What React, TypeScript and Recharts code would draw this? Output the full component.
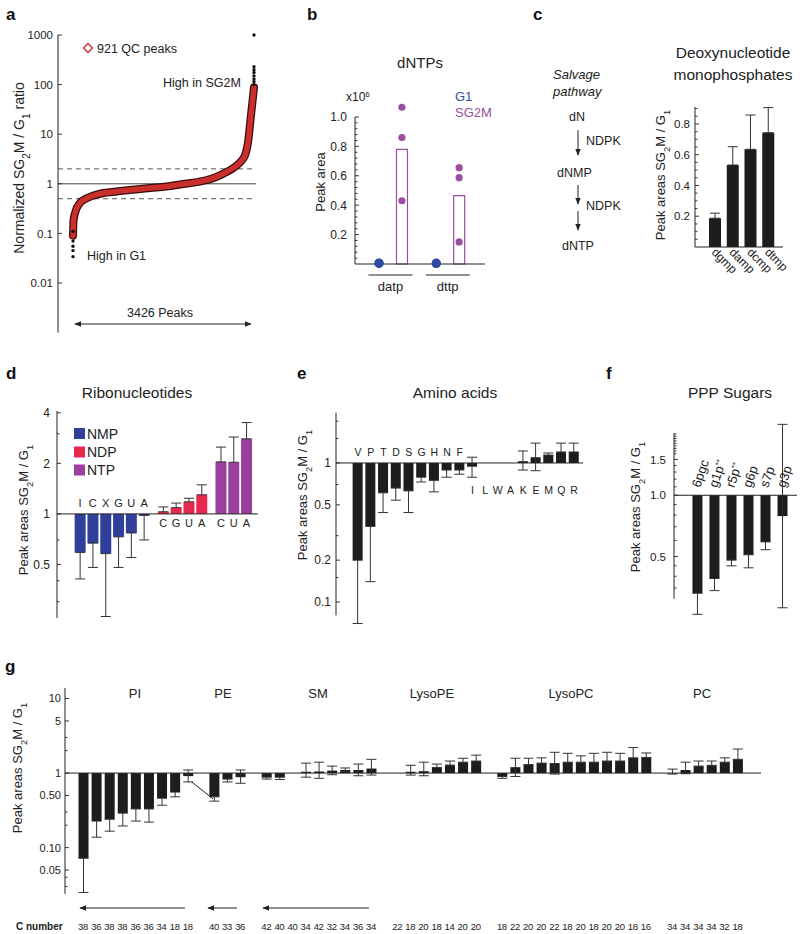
import {
  Bar,
  Cell,
  ComposedChart,
  ErrorBar,
  Line,
  ReferenceDot,
  ReferenceLine,
  Scatter,
  XAxis,
  YAxis,
} from 'recharts'

const FONT = '"Liberation Sans", Arial, Helvetica, sans-serif'
const INK = '#222'
const BAR = '#1d1d1d'
const NMP_BLUE = '#2f3f9a'
const NDP_RED = '#e6284f'
const NTP_PURPLE = '#9b3e9d'
const G1_BLUE = '#3049a2'
const SG2M_PURPLE = '#9a4fa0'
const QC_RED = '#c9302c'

// a: ranked SG2M/G1 ratios of all peaks
const curveRank = [0, 10, 40, 130, 260, 510, 830, 1140, 1460, 1770, 2080, 2400, 2650, 2840, 3030, 3160, 3260, 3320, 3360, 3395, 3426]
const curveRatio = [0.09, 0.18, 0.26, 0.41, 0.51, 0.63, 0.7, 0.76, 0.82, 0.88, 0.99, 1.11, 1.3, 1.59, 2.07, 2.69, 3.85, 7.7, 19.5, 43, 88]
const tailRank = [0, 0, 0, 0, 0, 3426, 3426, 3426, 3426, 3426, 3426, 3426, 3426]
const tailRatio = [0.11, 0.07, 0.055, 0.045, 0.034, 100, 115, 130, 150, 175, 200, 230, 1000]
const ratioTicks = [0.01, 0.1, 1, 10, 100, 1000]

// b: dNTP peak areas (x10^6)
const dntpNames = ['datp', 'dttp']
const dntpMean = [0.78, 0.465]
const dntpSg2m = [[1.066, 0.86, 0.43], [0.655, 0.587, 0.15]]
const dntpG1 = [[0.007, 0.004, 0.005], [0.006, 0.003, 0.005]]

// c: deoxynucleotide monophosphates
const dnmpNames = ['dgmp', 'damp', 'dcmp', 'dtmp']
const dnmpRatio = [0.187, 0.533, 0.635, 0.743]
const dnmpErrTop = [0.22, 0.652, 0.858, 0.906]

// d: ribonucleotides
const nmpNames = ['I', 'C', 'X', 'G', 'U', 'A']
const nmpRatio = [0.59, 0.67, 0.58, 0.73, 0.77, 0.98]
const nmpErrLow = [0.41, 0.48, 0.245, 0.48, 0.55, 0.7]
const ndpNames = ['C', 'G', 'U', 'A']
const ndpRatio = [1.03, 1.09, 1.18, 1.3]
const ndpErrTop = [1.1, 1.16, 1.24, 1.49]
const ntpNames = ['C', 'U', 'A']
const ntpRatio = [2.04, 2.03, 2.8]
const ntpErrTop = [2.5, 2.87, 3.5]

// e: amino acids
const aminoNames = ['V', 'P', 'T', 'D', 'S', 'G', 'H', 'N', 'F', 'I', 'L', 'W', 'A', 'K', 'E', 'M', 'Q', 'R']
const aminoRatio = [0.2, 0.35, 0.61, 0.66, 0.63, 0.79, 0.75, 0.89, 0.89, 0.94, 1.0, 1.0, 1.0, 1.03, 1.1, 1.14, 1.2, 1.2]
const aminoLow = [0.07, 0.14, 0.44, 0.54, 0.44, 0.73, 0.62, 0.79, 0.83, 0.79, 0.77, 0.79, 0.89, 0.89, 0.88, 1.14, 1.2, 1.2]
const aminoHigh = [0.2, 0.35, 0.61, 0.66, 0.63, 0.79, 0.75, 0.89, 0.89, 1.1, 1.28, 1.22, 1.14, 1.22, 1.39, 1.18, 1.39, 1.39]
const aminoAbove = 9

// f: PPP sugars
const sugarNames = ['6pgc', 'g1p', 'r5p', 'g6p', 's7p', 'g3p']
const sugarMarks = ['', '**', '**', '', '', '']
const sugarRatio = [0.33, 0.39, 0.48, 0.51, 0.59, 0.79]
const sugarLow = [0.26, 0.34, 0.45, 0.44, 0.54, 0.28]
const sugarHigh = [0.33, 0.39, 0.48, 0.51, 0.59, 2.23]

// g: lipids, per class
const lipidClasses = ['PI', 'PE', 'SM', 'LysoPE', 'LysoPC', 'PC']
const lipidCarbons = [
  [38, 36, 38, 38, 36, 36, 34, 18, 18],
  [40, 33, 36],
  [42, 40, 40, 34, 42, 32, 34, 36, 34],
  [22, 18, 20, 18, 14, 20, 20],
  [18, 22, 20, 20, 22, 18, 20, 18, 20, 20, 18, 16],
  [34, 34, 34, 34, 32, 18],
]
const lipidRatio = [
  [0.072, 0.227, 0.24, 0.29, 0.33, 0.33, 0.46, 0.556, 0.91],
  [0.48, 0.83, 0.88],
  [0.88, 0.88, 1.0, 1.04, 1.05, 1.08, 1.1, 1.1, 1.15],
  [1.0, 1.04, 1.06, 1.19, 1.28, 1.4, 1.45],
  [0.9, 1.2, 1.3, 1.36, 1.36, 1.4, 1.4, 1.4, 1.45, 1.45, 1.6, 1.62],
  [0.99, 1.1, 1.24, 1.27, 1.4, 1.53],
]
const lipidLow = [
  [0.025, 0.138, 0.166, 0.195, 0.227, 0.22, 0.37, 0.48, 0.76],
  [0.42, 0.76, 0.73],
  [0.83, 0.82, 0.94, 0.88, 0.85, 0.95, 1.05, 0.92, 0.94],
  [0.88, 0.94, 0.92, 1.19, 1.28, 1.4, 1.45],
  [0.85, 0.9, 1.3, 1.36, 0.97, 1.4, 1.4, 1.4, 1.45, 1.45, 1.6, 1.62],
  [0.97, 0.98, 1.24, 1.27, 1.4, 1.53],
]
const lipidHigh = [
  [0.072, 0.227, 0.24, 0.29, 0.33, 0.33, 0.46, 0.556, 1.1],
  [0.48, 0.83, 1.1],
  [0.88, 0.88, 1.1, 1.36, 1.4, 1.24, 1.17, 1.32, 1.53],
  [1.23, 1.27, 1.4, 1.32, 1.45, 1.58, 1.74],
  [0.9, 1.58, 1.58, 1.6, 1.9, 1.84, 1.7, 1.84, 1.9, 1.84, 2.2, 1.86],
  [1.13, 1.4, 1.45, 1.45, 1.6, 2.1],
]

// slot positions along a numeric x axis, with a gap between groups
function slotPositions(sizes: number[], gap: number) {
  const out: number[] = []
  let p = 0
  sizes.forEach((n) => {
    for (let i = 0; i < n; i++) out.push(p++)
    p += gap
  })
  return out
}

const ratioBar = (x: number, v: number, lo: number, hi: number) => ({
  x,
  range: [1, v],
  err: [v - lo, hi - v],
})

const curveRows = curveRank.map((rank, i) => ({ rank, ratio: curveRatio[i] }))
const tailRows = tailRank.map((rank, i) => ({ rank, ratio: tailRatio[i] }))

const dntpBarRows = dntpNames.map((name, i) => ({ name, x: i * 2.5 + 1, mean: dntpMean[i] }))
const dntpG1Pts = dntpG1.flatMap((reps, i) => reps.map((v) => ({ x: i * 2.5, v })))
const dntpSgPts = dntpSg2m.flatMap((reps, i) => reps.map((v) => ({ x: i * 2.5 + 1, v })))
const dntpTickPos = dntpNames.map((_, i) => i * 2.5 + 0.5)

const dnmpRows = dnmpNames.map((name, i) => ({
  name,
  ratio: dnmpRatio[i],
  err: [0, dnmpErrTop[i] - dnmpRatio[i]],
}))

const riboPos = slotPositions([nmpNames.length, ndpNames.length, ntpNames.length], 0.5)
const riboRows = [
  ...nmpNames.map((name, i) => ({ name, color: NMP_BLUE, above: true, ...ratioBar(0, nmpRatio[i], nmpErrLow[i], nmpRatio[i]) })),
  ...ndpNames.map((name, i) => ({ name, color: NDP_RED, above: false, ...ratioBar(0, ndpRatio[i], ndpRatio[i], ndpErrTop[i]) })),
  ...ntpNames.map((name, i) => ({ name, color: NTP_PURPLE, above: false, ...ratioBar(0, ntpRatio[i], ntpRatio[i], ntpErrTop[i]) })),
].map((r, i) => ({ ...r, x: riboPos[i] }))

const aminoRows = aminoNames.map((name, i) => ({
  name,
  above: i < aminoAbove,
  ...ratioBar(i, aminoRatio[i], aminoLow[i], aminoHigh[i]),
}))

const sugarRows = sugarNames.map((name, i) => ({
  name,
  mark: sugarMarks[i],
  ...ratioBar(i, sugarRatio[i], sugarLow[i], sugarHigh[i]),
}))

const lipidPos = slotPositions(lipidCarbons.map((c) => c.length), 1)
const lipidRows = lipidCarbons
  .flatMap((cs, g) => cs.map((c, i) => ({ c, v: lipidRatio[g][i], lo: lipidLow[g][i], hi: lipidHigh[g][i] })))
  .map((r, i) => ({ c: r.c, ...ratioBar(lipidPos[i], r.v, r.lo, r.hi) }))

function yTick(majors: number[], fmt: (v: number) => string, size: number, margin: number) {
  return (props: any) => {
    const { x, y, payload } = props
    const v = payload.value as number
    const major = majors.some((m) => Math.abs(m - v) < 1e-9)
    const ax = x + margin
    return (
      <g>
        <line x1={ax} x2={ax + (major ? 4 : 2.5)} y1={y} y2={y} stroke={INK} strokeWidth={0.9} />
        {major && (
          <text x={x} y={y} dy="0.36em" textAnchor="end" fontSize={size} fontFamily={FONT} fill={INK}>
            {fmt(v)}
          </text>
        )}
      </g>
    )
  }
}

const letterAt = (text: string, dy: number, size: number) => (p: any) => (
  <text x={p.viewBox.x} y={p.viewBox.y + dy} textAnchor="middle" fontSize={size} fontFamily={FONT} fill={INK}>
    {text}
  </text>
)

const sugarLabel = (name: string, mark: string) => (p: any) => {
  const tx = p.viewBox.x + 3
  const ty = p.viewBox.y - 7
  return (
    <text transform={`translate(${tx} ${ty}) rotate(-71)`} fontSize={13} fontFamily={FONT} fill={INK}>
      {name}
      {mark && (
        <tspan baselineShift="super" fontSize={8}>
          {mark}
        </tspan>
      )}
    </text>
  )
}

const dntpTick = (p: any) => (
  <g>
    <line x1={p.x - 22} x2={p.x + 22} y1={p.y + 3} y2={p.y + 3} stroke={INK} strokeWidth={1} />
    <text x={p.x} y={p.y + 19} textAnchor="middle" fontSize={13} fontFamily={FONT} fill={INK}>
      {dntpNames[p.index]}
    </text>
  </g>
)

const dnmpTick = (p: any) => (
  <text
    x={p.x - 4}
    y={p.y + 6}
    transform={`rotate(45 ${p.x - 4} ${p.y + 6})`}
    fontSize={12}
    fontFamily={FONT}
    fill={INK}
  >
    {p.payload.value}
  </text>
)

const carbonTick = (p: any) => (
  <text x={p.x} y={p.y + 36} textAnchor="middle" fontSize={9.5} fontFamily={FONT} fill={INK} letterSpacing={-0.3}>
    {lipidRows[p.index]?.c}
  </text>
)

function RatioPanel() {
  return (
    <ComposedChart width={270} height={345} margin={{ top: 35, right: 14, bottom: 12.4, left: 0 }}>
      <XAxis type="number" dataKey="rank" domain={[-284, 3464]} hide />
      <YAxis
        type="number"
        scale="log"
        domain={[0.001, 1000]}
        ticks={ratioTicks}
        interval={0}
        width={58}
        axisLine={{ stroke: INK }}
        tickLine={false}
        tickSize={0}
        tickMargin={5}
        tick={yTick(ratioTicks, String, 11.5, 5)}
      />
      <ReferenceLine y={2} stroke="#555" strokeDasharray="5 4" />
      <ReferenceLine y={0.5} stroke="#555" strokeDasharray="5 4" />
      <ReferenceLine y={1} stroke="#444" />
      <Scatter
        data={tailRows}
        dataKey="ratio"
        isAnimationActive={false}
        shape={(p: any) => <circle cx={p.cx} cy={p.cy} r={1.7} fill="#111" />}
      />
      <Line data={curveRows} dataKey="ratio" type="monotone" stroke="#3a0909" strokeWidth={8} strokeLinecap="round" dot={false} isAnimationActive={false} />
      <Line data={curveRows} dataKey="ratio" type="monotone" stroke={QC_RED} strokeWidth={5.5} strokeLinecap="round" dot={false} isAnimationActive={false} />
    </ComposedChart>
  )
}

const bXDomain = [-1.05, 4.63]
const bMajor = [0.2, 0.4, 0.6, 0.8, 1.0]
const bTicks = Array.from({ length: 25 }, (_, i) => +((i + 1) * 0.04).toFixed(2))

function DntpPanel() {
  return (
    <ComposedChart width={185} height={214} data={dntpBarRows} margin={{ top: 25.2, right: 0, bottom: 0, left: 0 }}>
      <XAxis
        type="number"
        dataKey="x"
        domain={bXDomain}
        ticks={dntpTickPos}
        interval={0}
        height={30}
        axisLine={{ stroke: INK }}
        tickLine={false}
        tickSize={0}
        tickMargin={8}
        tick={dntpTick}
      />
      <YAxis
        type="number"
        domain={[0, 1.08]}
        ticks={bTicks}
        interval={0}
        width={55}
        axisLine={false}
        tickLine={false}
        tickSize={0}
        tickMargin={8}
        tick={yTick(bMajor, (v) => v.toFixed(1), 12, 8)}
      />
      <ReferenceLine segment={[{ x: bXDomain[0], y: 0 }, { x: bXDomain[0], y: 1 }]} stroke={INK} ifOverflow="visible" />
      <Bar dataKey="mean" barSize={11} fill="#fff" stroke={SG2M_PURPLE} strokeWidth={1.2} isAnimationActive={false} />
      <Scatter data={dntpG1Pts} dataKey="v" isAnimationActive={false} shape={(p: any) => <circle cx={p.cx} cy={p.cy} r={4.5} fill={G1_BLUE} />} />
      <Scatter data={dntpSgPts} dataKey="v" isAnimationActive={false} shape={(p: any) => <circle cx={p.cx} cy={p.cy} r={3.6} fill={SG2M_PURPLE} />} />
    </ComposedChart>
  )
}

const cMajor = [0.2, 0.4, 0.6, 0.8]
const cTicks = Array.from({ length: 18 }, (_, i) => +((i + 1) * 0.05).toFixed(2))

function DnmpPanel() {
  return (
    <ComposedChart width={150} height={197} data={dnmpRows} margin={{ top: 17, right: 17, bottom: 0, left: 0 }}>
      <XAxis
        dataKey="name"
        type="category"
        padding={{ left: 11, right: 6 }}
        height={40}
        interval={0}
        axisLine={{ stroke: INK }}
        tickLine={false}
        tickSize={0}
        tickMargin={0}
        tick={dnmpTick}
      />
      <YAxis
        type="number"
        domain={[0, 0.91]}
        ticks={cTicks}
        interval={0}
        width={45}
        axisLine={{ stroke: INK }}
        tickLine={false}
        tickSize={0}
        tickMargin={5}
        tick={yTick(cMajor, (v) => v.toFixed(1), 11.5, 5)}
      />
      <Bar dataKey="ratio" fill={BAR} barSize={12} isAnimationActive={false}>
        <ErrorBar dataKey="err" width={5} stroke="#333" strokeWidth={1} direction="y" />
      </Bar>
    </ComposedChart>
  )
}

const dMajor = [0.5, 1, 2, 4]
const dTicks = [0.3, 0.4, 0.5, 0.7, 1, 2, 3, 4]

function RiboPanel() {
  return (
    <ComposedChart width={258} height={235} data={riboRows} margin={{ top: 21, right: 0, bottom: 7, left: 0 }}>
      <XAxis type="number" dataKey="x" domain={[-1.8, 13.9]} ticks={riboPos} hide />
      <YAxis
        type="number"
        scale="log"
        domain={[0.24, 4.1]}
        ticks={dTicks}
        interval={0}
        width={57}
        axisLine={{ stroke: INK }}
        tickLine={false}
        tickSize={0}
        tickMargin={7}
        tick={yTick(dMajor, String, 12, 7)}
      />
      <Bar dataKey="range" barSize={11} isAnimationActive={false}>
        {riboRows.map((r, i) => (
          <Cell key={`ribo-${i}`} fill={r.color} />
        ))}
        <ErrorBar dataKey="err" width={5} stroke="#333" strokeWidth={1} direction="y" />
      </Bar>
      <ReferenceLine y={1} stroke={INK} />
      {riboRows.map((r, i) => (
        <ReferenceDot key={`rl-${i}`} x={r.x} y={1} r={0} fill="none" stroke="none" label={letterAt(r.name, r.above ? -6.5 : 13.5, 11)} />
      ))}
    </ComposedChart>
  )
}

const eDomain = [-1.73, 17.7]
const eMajor = [0.1, 0.2, 0.5, 1]
const eTicks = [0.1, 0.15, 0.2, 0.3, 0.5, 0.7, 1, 1.5, 2]

function AminoPanel() {
  return (
    <ComposedChart width={293} height={255} data={aminoRows} margin={{ top: 32.7, right: 0, bottom: 7, left: 0 }}>
      <XAxis type="number" dataKey="x" domain={eDomain} ticks={aminoRows.map((r) => r.x)} hide />
      <YAxis
        type="number"
        scale="log"
        domain={[0.065, 2.3]}
        ticks={eTicks}
        interval={0}
        width={46}
        axisLine={false}
        tickLine={false}
        tickSize={0}
        tickMargin={5}
        tick={yTick(eMajor, String, 12, 5)}
      />
      <ReferenceLine segment={[{ x: eDomain[0], y: 0.08 }, { x: eDomain[0], y: 2.3 }]} stroke={INK} ifOverflow="visible" />
      <Bar dataKey="range" fill={BAR} barSize={10} isAnimationActive={false}>
        <ErrorBar dataKey="err" width={5} stroke="#333" strokeWidth={1} direction="y" />
      </Bar>
      <ReferenceLine y={1} stroke={INK} />
      {aminoRows.map((r, i) => (
        <ReferenceDot key={`al-${i}`} x={r.x} y={1} r={0} fill="none" stroke="none" label={letterAt(r.name, r.above ? -7 : 31, 10.5)} />
      ))}
    </ComposedChart>
  )
}

const fDomain = [-1.35, 5.88]
const fMajor = [0.5, 1, 1.5]
const fTicks = [0.35, 0.4, 0.45, 0.5, 0.6, 0.7, 0.8, 0.9, 1, 1.1, 1.2, 1.3, 1.4, 1.5, 1.6, 1.65, 1.7, 1.75, 1.8, 1.85, 1.9, 1.95, 2.0]

function SugarPanel() {
  return (
    <ComposedChart width={177} height={245} data={sugarRows} margin={{ top: 36.4, right: 0, bottom: 7.2, left: 0 }}>
      <XAxis type="number" dataKey="x" domain={fDomain} ticks={sugarRows.map((r) => r.x)} hide />
      <YAxis
        type="number"
        scale="log"
        domain={[0.25, 2.3]}
        ticks={fTicks}
        interval={0}
        width={54}
        axisLine={false}
        tickLine={false}
        tickSize={0}
        tickMargin={8}
        tick={yTick(fMajor, (v) => v.toFixed(1), 11.5, 8)}
      />
      <ReferenceLine segment={[{ x: fDomain[0], y: 0.31 }, { x: fDomain[0], y: 2.02 }]} stroke={INK} ifOverflow="visible" />
      <Bar dataKey="range" fill={BAR} barSize={10} isAnimationActive={false}>
        <ErrorBar dataKey="err" width={5} stroke="#333" strokeWidth={1} direction="y" />
      </Bar>
      <ReferenceLine y={1} stroke={INK} />
      {sugarRows.map((r, i) => (
        <ReferenceDot key={`sl-${i}`} x={r.x} y={1} r={0} fill="none" stroke="none" label={sugarLabel(r.name, r.mark)} />
      ))}
    </ComposedChart>
  )
}

const gMajor = [0.05, 0.1, 0.5, 1, 5, 10]
const gTicks = [0.03, 0.04, 0.05, 0.1, 0.2, 0.3, 0.5, 1, 2, 3, 5, 10]

function LipidPanel() {
  return (
    <ComposedChart width={761} height={274} data={lipidRows} margin={{ top: 28.1, right: 0, bottom: 0, left: 0 }}>
      <XAxis
        type="number"
        dataKey="x"
        domain={[-1.38, 51.8]}
        ticks={lipidRows.map((r) => r.x)}
        interval={0}
        height={40.2}
        axisLine={false}
        tickLine={false}
        tickSize={0}
        tickMargin={0}
        tick={carbonTick}
      />
      <YAxis
        type="number"
        scale="log"
        domain={[0.024, 13.8]}
        ticks={gTicks}
        interval={0}
        width={65}
        axisLine={{ stroke: INK }}
        tickLine={false}
        tickSize={0}
        tickMargin={4}
        tick={yTick(gMajor, (v) => (v < 1 ? v.toFixed(2) : String(v)), 11, 4)}
      />
      <Bar dataKey="range" fill={BAR} barSize={10} isAnimationActive={false}>
        <ErrorBar dataKey="err" width={5} stroke="#333" strokeWidth={1} direction="y" />
      </Bar>
      <ReferenceLine y={1} stroke={INK} />
      <ReferenceLine segment={[{ x: 8.3, y: 0.76 }, { x: 9.93, y: 0.45 }]} stroke={INK} ifOverflow="visible" />
    </ComposedChart>
  )
}

const Sub = ({ children }: { children: any }) => (
  <tspan baselineShift="sub" fontSize="72%">
    {children}
  </tspan>
)

const VText = ({ x, y, size = 13, children }: { x: number; y: number; size?: number; children: any }) => (
  <text transform={`translate(${x} ${y}) rotate(-90)`} textAnchor="middle" dy="0.35em" fontSize={size} fontFamily={FONT} fill={INK}>
    {children}
  </text>
)

const PeakAreas = () => (
  <>
    Peak areas SG<Sub>2</Sub>M / G<Sub>1</Sub>
  </>
)

function Annotations() {
  const t = { fontFamily: FONT, fill: INK }
  const letter = { fontFamily: FONT, fill: '#111', fontSize: 17, fontWeight: 700 }
  return (
    <svg width={800} height={934} style={{ position: 'absolute', left: 0, top: 0, pointerEvents: 'none' }}>
      <defs>
        <marker id="ah" viewBox="0 0 10 10" refX="9" refY="5" markerWidth="7" markerHeight="7" orient="auto-start-reverse">
          <path d="M0,1 L10,5 L0,9 z" fill={INK} />
        </marker>
      </defs>
      {/* panel letters */}
      <text x={6} y={20} {...letter}>a</text>
      <text x={307} y={20} {...letter}>b</text>
      <text x={533} y={20} {...letter}>c</text>
      <text x={6} y={379} {...letter}>d</text>
      <text x={297} y={379} {...letter}>e</text>
      <text x={606} y={379} {...letter}>f</text>
      <text x={5} y={672} {...letter}>g</text>

      {/* a */}
      <VText x={19} y={168} size={14}>
        Normalized SG<Sub>2</Sub>M / G<Sub>1</Sub> ratio
      </VText>
      <polygon points="88,43.5 92.5,48 88,52.5 83.5,48" fill="#fff" stroke={QC_RED} strokeWidth={1.3} />
      <text x={97} y={52.5} fontSize={12.5} {...t}>921 QC peaks</text>
      <text x={163} y={86.5} fontSize={12.5} {...t}>High in SG2M</text>
      <text x={87} y={259.5} fontSize={12.5} {...t}>High in G1</text>
      <text x={160} y={317} fontSize={12.5} textAnchor="middle" {...t}>3426 Peaks</text>
      <line x1={75} x2={251} y1={324} y2={324} stroke={INK} strokeWidth={1} markerStart="url(#ah)" markerEnd="url(#ah)" />

      {/* b */}
      <text x={420} y={68} fontSize={15} textAnchor="middle" {...t}>dNTPs</text>
      <text x={346} y={101} fontSize={12} {...t}>
        x10<tspan baselineShift="super" fontSize={8}>6</tspan>
      </text>
      <text x={455} y={101} fontSize={13} fontFamily={FONT} fill={G1_BLUE}>G1</text>
      <text x={455} y={117} fontSize={13} fontFamily={FONT} fill={SG2M_PURPLE}>SG2M</text>
      <VText x={320} y={182}>Peak area</VText>

      {/* c */}
      <text x={553} y={79} fontSize={13} fontStyle="italic" {...t}>Salvage</text>
      <text x={553} y={96} fontSize={13} fontStyle="italic" {...t}>pathway</text>
      <text x={569} y={121} fontSize={12.5} {...t}>dN</text>
      <line x1={578} x2={578} y1={130} y2={155} stroke={INK} markerEnd="url(#ah)" />
      <text x={586} y={145} fontSize={12.5} {...t}>NDPK</text>
      <text x={557} y={177} fontSize={12.5} {...t}>dNMP</text>
      <line x1={578} x2={578} y1={185} y2={204} stroke={INK} markerEnd="url(#ah)" />
      <text x={586} y={210} fontSize={12.5} {...t}>NDPK</text>
      <line x1={578} x2={578} y1={211} y2={230} stroke={INK} markerEnd="url(#ah)" />
      <text x={562} y={250} fontSize={12.5} {...t}>dNTP</text>
      <text x={733} y={58} fontSize={15.5} textAnchor="middle" {...t}>Deoxynucleotide</text>
      <text x={733} y={80} fontSize={15.5} textAnchor="middle" {...t}>monophosphates</text>
      <VText x={660} y={175}>
        <PeakAreas />
      </VText>

      {/* d */}
      <text x={137} y={398} fontSize={15.5} textAnchor="middle" {...t}>Ribonucleotides</text>
      <rect x={74} y={428} width={11} height={11} fill={NMP_BLUE} />
      <text x={87} y={438.5} fontSize={14} {...t}>NMP</text>
      <rect x={74} y={446.5} width={11} height={11} fill={NDP_RED} />
      <text x={87} y={457} fontSize={14} {...t}>NDP</text>
      <rect x={74} y={464.5} width={11} height={11} fill={NTP_PURPLE} />
      <text x={87} y={475} fontSize={14} {...t}>NTP</text>
      <VText x={23} y={510}>
        <PeakAreas />
      </VText>

      {/* e */}
      <text x={455} y={398} fontSize={15.5} textAnchor="middle" {...t}>Amino acids</text>
      <VText x={302} y={495}>
        <PeakAreas />
      </VText>

      {/* f */}
      <text x={730} y={398} fontSize={15.5} textAnchor="middle" {...t}>PPP Sugars</text>
      <VText x={635} y={507}>
        <PeakAreas />
      </VText>

      {/* g */}
      <VText x={17} y={768}>
        <PeakAreas />
      </VText>
      {[135, 223, 318, 432, 571, 702].map((x, i) => (
        <text key={lipidClasses[i]} x={x} y={697.5} fontSize={13} textAnchor="middle" {...t}>
          {lipidClasses[i]}
        </text>
      ))}
      <line x1={185} x2={80} y1={908} y2={908} stroke={INK} markerEnd="url(#ah)" />
      <line x1={237} x2={208} y1={908} y2={908} stroke={INK} markerEnd="url(#ah)" />
      <line x1={369} x2={263} y1={908} y2={908} stroke={INK} markerEnd="url(#ah)" />
      <text x={16} y={929.5} fontSize={10} fontWeight={700} {...t}>C number</text>
    </svg>
  )
}

export default function App() {
  return (
    <div style={{ position: 'relative', width: 800, height: 934, background: '#fff', overflow: 'hidden' }}>
      <style>{'body { margin: 0; }'}</style>
      <div style={{ position: 'absolute', left: 0, top: 0 }}>
        <RatioPanel />
      </div>
      <div style={{ position: 'absolute', left: 300, top: 80 }}>
        <DntpPanel />
      </div>
      <div style={{ position: 'absolute', left: 650, top: 90 }}>
        <DnmpPanel />
      </div>
      <div style={{ position: 'absolute', left: 0, top: 390 }}>
        <RiboPanel />
      </div>
      <div style={{ position: 'absolute', left: 290, top: 380 }}>
        <AminoPanel />
      </div>
      <div style={{ position: 'absolute', left: 620, top: 380 }}>
        <SugarPanel />
      </div>
      <div style={{ position: 'absolute', left: 0, top: 660 }}>
        <LipidPanel />
      </div>
      <Annotations />
    </div>
  )
}
